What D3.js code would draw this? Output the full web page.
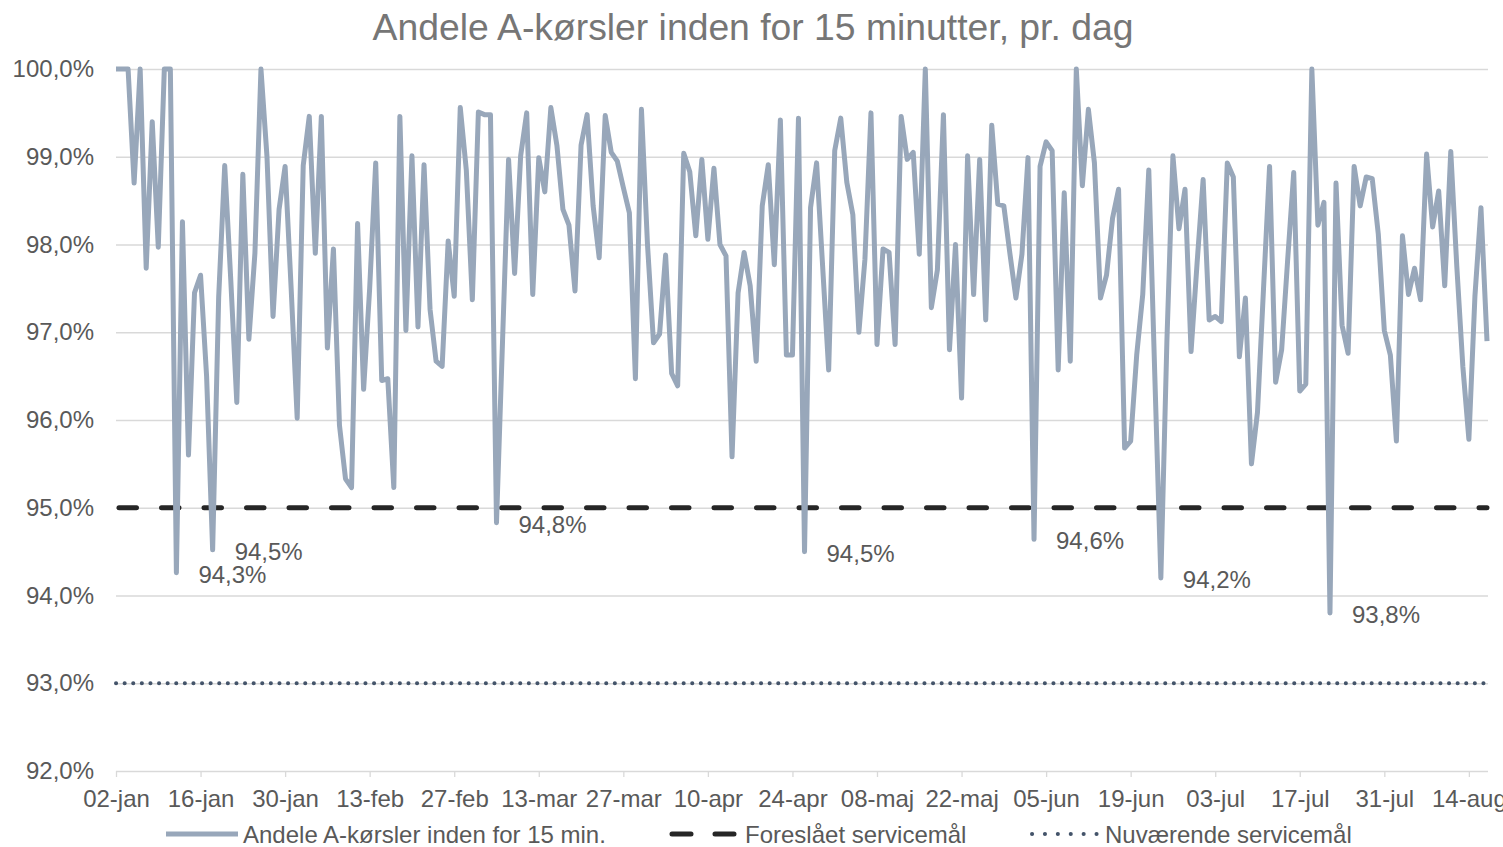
<!DOCTYPE html>
<html>
<head>
<meta charset="utf-8">
<script src="https://cdn.jsdelivr.net/npm/d3@7"></script>
<style>
  body { margin: 0; background: #fff; }
  svg text { font-family: "Liberation Sans", Arial, sans-serif; }
</style>
</head>
<body>
<div id="chart"></div>
<script>
// daily share of A-trips within 15 min, starting 02-jan
const firstDay = [2023, 0, 2];
const dailyShare = [
  100.0, 100.0, 100.0, 98.7, 100.0, 97.73, 99.4, 97.97, 100.0, 100.0,
  94.26, 98.26, 95.6, 97.45, 97.65, 96.5, 94.52, 97.4, 98.9, 97.6,
  96.2, 98.8, 96.92, 97.9, 100.0, 99.0, 97.18, 98.4, 98.89, 97.5,
  96.02, 98.9, 99.46, 97.9, 99.46, 96.82, 97.95, 95.94, 95.33, 95.23,
  98.24, 96.35, 97.5, 98.93, 96.45, 96.47, 95.23, 99.46, 97.02, 99.01,
  97.06, 98.91, 97.26, 96.67, 96.61, 98.04, 97.41, 99.56, 98.85, 97.37,
  99.51, 99.48, 99.48, 94.83, 96.9, 98.97, 97.67, 99.01, 99.5, 97.43,
  98.99, 98.6, 99.56, 99.13, 98.4, 98.22, 97.47, 99.13, 99.48, 98.44,
  97.85, 99.47, 99.05, 98.95, 98.65, 98.36, 96.47, 99.54, 98.0, 96.88,
  96.98, 97.88, 96.53, 96.39, 99.04, 98.83, 98.1, 98.97, 98.06, 98.87,
  98.0, 97.87, 95.58, 97.45, 97.91, 97.53, 96.67, 98.44, 98.91, 97.77,
  99.42, 96.74, 96.74, 99.44, 94.5, 98.42, 98.93, 97.75, 96.57, 99.07,
  99.44, 98.71, 98.34, 97.0, 97.83, 99.5, 96.86, 97.95, 97.91, 96.86,
  99.46, 98.97, 99.05, 97.89, 100.0, 97.28, 97.71, 99.48, 96.8, 98.0,
  96.25, 99.01, 97.43, 98.97, 97.14, 99.36, 98.46, 98.44, 97.9, 97.39,
  97.89, 98.99, 94.64, 98.89, 99.17, 99.07, 96.57, 98.59, 96.67, 100.0,
  98.67, 99.54, 98.93, 97.39, 97.65, 98.3, 98.63, 95.68, 95.76, 96.74,
  97.43, 98.85, 96.5, 94.2, 96.9, 99.01, 98.18, 98.63, 96.78, 97.79,
  98.74, 97.14, 97.18, 97.12, 98.93, 98.77, 96.72, 97.39, 95.5, 96.09,
  97.5, 98.89, 96.43, 96.8, 97.83, 98.82, 96.33, 96.41, 100.0, 98.22,
  98.48, 93.8, 98.7, 97.08, 96.76, 98.89, 98.44, 98.77, 98.75, 98.12,
  97.02, 96.74, 95.76, 98.1, 97.43, 97.73, 97.37, 99.03, 98.2, 98.61,
  97.53, 99.06, 97.75, 96.61, 95.78, 97.41, 98.42, 96.9
];
const proposedTarget = 95;
const currentTarget = 93;
// days (index into dailyShare) that get a value label
const labelledDays = [10, 16, 63, 114, 152, 173, 201];
const tickLabels = ["02-jan", "16-jan", "30-jan", "13-feb", "27-feb", "13-mar", "27-mar",
  "10-apr", "24-apr", "08-maj", "22-maj", "05-jun", "19-jun", "03-jul", "17-jul",
  "31-jul", "14-aug"];
const yTicks = [92, 93, 94, 95, 96, 97, 98, 99, 100];
const seriesNames = ["Andele A-kørsler inden for 15 min.", "Foreslået servicemål", "Nuværende servicemål"];

document.addEventListener("DOMContentLoaded", function () {
  const width = 1503;
  const height = 847;
  const left = 116, right = 1487, top = 69, bottom = 771;

  const textColor = "#595959";
  const lineColor = "#98a7ba";
  const fontSize = 24;

  const svg = d3.select("#chart").append("svg")
    .attr("width", width)
    .attr("height", height);

  const dates = dailyShare.map((v, i) => new Date(firstDay[0], firstDay[1], firstDay[2] + i));
  const data = dailyShare.map((v, i) => ({ date: dates[i], value: v }));

  const x = d3.scaleTime()
    .domain([dates[0], dates[dates.length - 1]])
    .range([left, right]);

  const y = d3.scaleLinear()
    .domain([92, 100])
    .range([bottom, top]);

  // title
  svg.append("text")
    .attr("x", 753)
    .attr("y", 40)
    .attr("text-anchor", "middle")
    .attr("font-size", 37.3)
    .attr("fill", "#767676")
    .text("Andele A-kørsler inden for 15 minutter, pr. dag");

  // y axis + gridlines
  const yAxis = d3.axisLeft(y)
    .tickValues(yTicks)
    .tickSize(-(right - left + 1))
    .tickPadding(22)
    .tickFormat(d => d3.format(".1f")(d).replace(".", ",") + "%");

  const gy = svg.append("g")
    .attr("transform", `translate(${left},0)`)
    .call(yAxis);
  gy.select(".domain").remove();
  gy.selectAll(".tick line").attr("stroke", "#d9d9d9").attr("stroke-width", 1.3);
  gy.selectAll(".tick text")
    .attr("font-size", fontSize)
    .attr("fill", textColor)
    .attr("font-family", "Liberation Sans, Arial, sans-serif");

  // x axis, ticks every 14 days
  const tickDates = tickLabels.map((t, i) => dates[i * 14]);
  const xAxis = d3.axisBottom(x)
    .tickValues(tickDates)
    .tickSize(6)
    .tickPadding(13)
    .tickFormat((d, i) => tickLabels[i]);

  const gx = svg.append("g")
    .attr("transform", `translate(0,${bottom})`)
    .call(xAxis);
  gx.select(".domain").remove();
  gx.selectAll(".tick line").attr("stroke", "#d9d9d9").attr("stroke-width", 1.3);
  gx.selectAll(".tick text")
    .attr("font-size", fontSize)
    .attr("fill", textColor)
    .attr("font-family", "Liberation Sans, Arial, sans-serif");

  // target lines
  svg.append("line")
    .attr("x1", left).attr("x2", right + 1)
    .attr("y1", y(currentTarget)).attr("y2", y(currentTarget))
    .attr("stroke", "#44546a")
    .attr("stroke-width", 4)
    .attr("stroke-linecap", "round")
    .attr("stroke-dasharray", "0.1,8.5");

  svg.append("line")
    .attr("x1", left + 3).attr("x2", right)
    .attr("y1", y(proposedTarget)).attr("y2", y(proposedTarget))
    .attr("stroke", "#262626")
    .attr("stroke-width", 5)
    .attr("stroke-linecap", "round")
    .attr("stroke-dasharray", "17.5,25");

  // main series
  const line = d3.line()
    .x(d => x(d.date))
    .y(d => y(d.value));

  svg.append("path")
    .datum(data)
    .attr("fill", "none")
    .attr("stroke", lineColor)
    .attr("stroke-width", 5)
    .attr("stroke-linejoin", "round")
    .attr("d", line);

  // value labels on the lowest days
  svg.selectAll(".min-label")
    .data(labelledDays)
    .enter()
    .append("text")
    .attr("class", "min-label")
    .attr("x", d => x(dates[d]) + 22)
    .attr("y", d => y(dailyShare[d]) + 1.5)
    .attr("dy", "0.35em")
    .attr("font-size", fontSize)
    .attr("fill", textColor)
    .text(d => d3.format(".1f")(dailyShare[d]).replace(".", ",") + "%");

  // legend
  const legend = svg.append("g");
  const legendItems = [
    { x: 166, name: seriesNames[0], stroke: lineColor, width: 5, dash: null },
    { x: 668, name: seriesNames[1], stroke: "#262626", width: 5, dash: "19,24" },
    { x: 1028, name: seriesNames[2], stroke: "#44546a", width: 4, dash: "0.1,12.8" }
  ];
  legendItems.forEach(item => {
    legend.append("line")
      .attr("x1", item.dash ? item.x + 4 : item.x)
      .attr("x2", item.x + 72)
      .attr("y1", 834).attr("y2", 834)
      .attr("stroke", item.stroke)
      .attr("stroke-width", item.width)
      .attr("stroke-linecap", item.dash ? "round" : "butt")
      .attr("stroke-dasharray", item.dash);
    legend.append("text")
      .attr("x", item.x + 77)
      .attr("y", 842.5)
      .attr("font-size", fontSize)
      .attr("fill", textColor)
      .text(item.name);
  });
});
</script>
</body>
</html>
